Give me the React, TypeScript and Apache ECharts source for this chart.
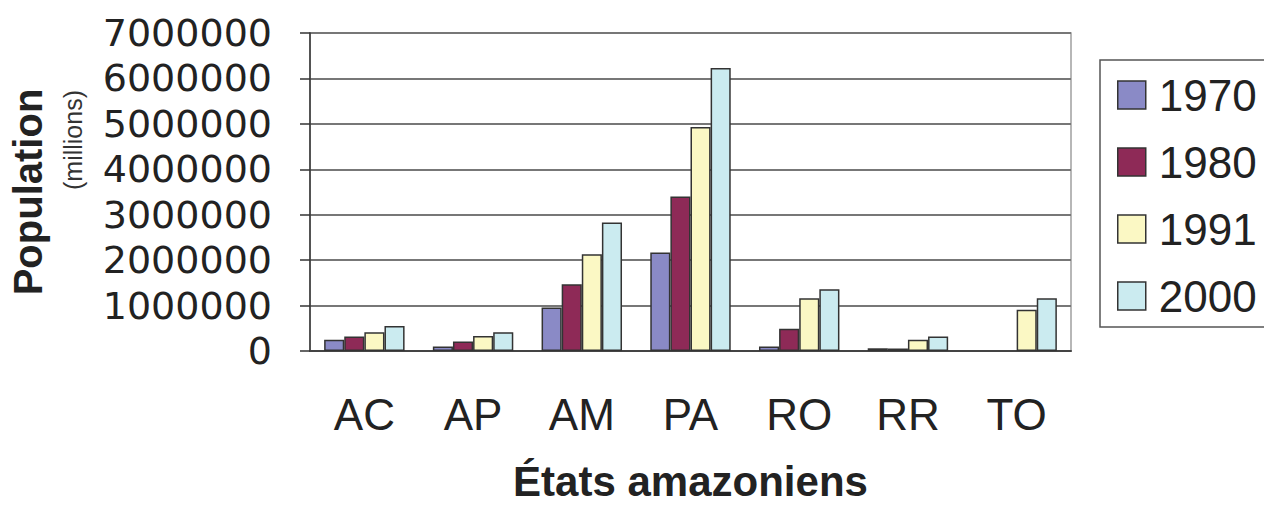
import React, { useEffect, useRef } from "react";
import * as echarts from "echarts";

// Amazonian states (abbreviations) and census years
const states = ["AC", "AP", "AM", "PA", "RO", "RR", "TO"];
const years = ["1970", "1980", "1991", "2000"];

// Population per state for each census year (TO did not exist before 1988)
const pop1970 = [250000, 100000, 960000, 2170000, 100000, 60000, null];
const pop1980 = [320000, 210000, 1470000, 3400000, 490000, 55000, null];
const pop1991 = [410000, 330000, 2130000, 4930000, 1160000, 250000, 910000];
const pop2000 = [550000, 410000, 2830000, 6230000, 1360000, 320000, 1160000];

const yTicks = { min: 0, max: 7000000, interval: 1000000 };

const colors = ["#8a8ac6", "#8e2a57", "#fbf8c4", "#cbebf0"];

export default function App() {
  const ref = useRef<HTMLDivElement>(null);

  useEffect(() => {
    if (!ref.current) return;
    const chart = echarts.init(ref.current, null, { renderer: "svg" });
    const seriesData = [pop1970, pop1980, pop1991, pop2000];

    chart.setOption({
      animation: false,
      backgroundColor: "#ffffff",
      grid: {
        left: 310,
        right: 193,
        top: 33,
        bottom: 154,
        outerBoundsMode: "none",
        containLabel: false,
        show: true,
        borderColor: "#a0a0a0",
        borderWidth: 1.5,
      },
      legend: {
        orient: "vertical",
        left: 1100,
        top: 60,
        padding: [12, 10, 8, 17],
        borderColor: "#555",
        borderWidth: 1.5,
        itemWidth: 28,
        itemHeight: 28,
        itemGap: 21,
        icon: "rect",
        itemStyle: { borderColor: "#333", borderWidth: 1.5 },
        textStyle: {
          fontFamily: "Liberation Sans, Arial, sans-serif",
          fontSize: 44,
          lineHeight: 46,
          color: "#222",
          padding: [0, 0, 0, 8],
        },
        data: years,
      },
      xAxis: {
        type: "category",
        data: states,
        name: "États amazoniens",
        nameLocation: "middle",
        nameGap: 112,
        nameTextStyle: {
          fontFamily: "Liberation Sans, Arial, sans-serif",
          fontSize: 42,
          fontWeight: "bold",
          lineHeight: 36,
          color: "#222",
        },
        axisLine: { lineStyle: { color: "#444", width: 2 } },
        axisTick: {
          alignWithLabel: false,
          length: 14,
          lineStyle: { color: "#444", width: 1.5 },
        },
        axisLabel: {
          interval: 0,
          margin: 41,
          fontFamily: "Liberation Sans, Arial, sans-serif",
          fontSize: 44,
          lineHeight: 44,
          color: "#222",
        },
      },
      yAxis: {
        type: "value",
        min: yTicks.min,
        max: yTicks.max,
        interval: yTicks.interval,
        name: "Population",
        nameLocation: "middle",
        nameRotate: 90,
        nameGap: 262,
        nameTextStyle: {
          fontFamily: "Liberation Sans, Arial, sans-serif",
          fontSize: 40,
          fontWeight: "bold",
          lineHeight: 40,
          color: "#222",
        },
        axisLine: { show: true, lineStyle: { color: "#333", width: 1.5 } },
        axisTick: { show: true, length: 10, lineStyle: { color: "#333", width: 1.5 } },
        splitLine: { lineStyle: { color: "#777", width: 2 } },
        axisLabel: {
          margin: 38,
          fontFamily: "DejaVu Sans, sans-serif",
          fontSize: 38,
          color: "#222",
          formatter: (v: number) => String(v),
        },
      },
      graphic: [
        {
          type: "text",
          x: 73,
          y: 140,
          rotation: Math.PI / 2,
          style: {
            text: "(millions)",
            fontFamily: "Liberation Sans, Arial, sans-serif",
            fontSize: 25,
            fill: "#333",
            align: "center",
            verticalAlign: "middle",
          },
        },
      ],
      series: years.map((y, i) => ({
        name: y,
        type: "bar",
        data: seriesData[i],
        barGap: "0%",
        barCategoryGap: "26%",
        itemStyle: {
          color: colors[i],
          borderColor: "#333",
          borderWidth: 1.5,
        },
      })),
    });

    return () => chart.dispose();
  }, []);

  return (
    <div
      ref={ref}
      style={{ position: "fixed", left: 0, top: 0, width: 1264, height: 505 }}
    />
  );
}
